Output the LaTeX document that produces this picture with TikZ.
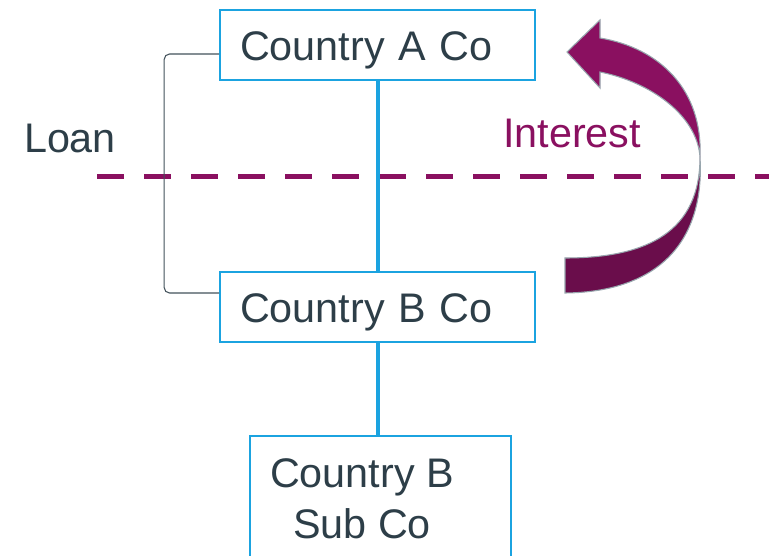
\documentclass[tikz,border=0pt]{standalone}
\usepackage{fontspec}
\setmainfont{Liberation Sans}
\definecolor{boxblue}{HTML}{1BA3E0}
\definecolor{inktext}{HTML}{2D3E48}
\definecolor{plum}{HTML}{8A1060}
\definecolor{plumdark}{HTML}{6A0D4B}
\definecolor{rimgray}{HTML}{98A6AE}
\tikzset{
  box/.style={draw=boxblue, line width=1.2pt, text=inktext, minimum width=236.25pt, minimum height=52.5pt, inner xsep=15pt, text width=206.25pt, text height=30pt, text depth=6.5pt, align=left},
  link/.style={draw=boxblue, line width=3pt},
  bracket/.style={draw=inktext!90, line width=0.8pt, rounded corners=4pt},
  divider/.style={draw=plum, line width=3.75pt, dash pattern=on 20.25pt off 15pt}
}
\begin{document}
\begin{tikzpicture}[x=0.75pt, y=-0.75pt, font=\fontsize{31}{38}\selectfont]
    \clip (0,0) rectangle (769,556);
    % Nodes
    \node[box] (ca) at (377.5,45) {Country A Co};
    \node[box] (cb) at (377.5,307) {Country B Co};
    \node[box, text width=165.75pt, minimum width=195.75pt, minimum height=105pt] (sub) at (380.5,506) {};
    \node[text=inktext, align=center] (subtxt) at (362,499) {Country B\\Sub Co};
    \node[text=inktext] (loan) at (70,138) {Loan};
    \node[text=plum] (interest) at (572,133) {Interest};
    \coordinate (dl) at (97,177);
    \coordinate (dr) at (769,177);

    % Edges
    \draw[divider] (dl) -- (dr);
    \draw[bracket] ([yshift=-6.75pt]ca.west) -| ([xshift=-41.25pt, yshift=10.5pt]cb.west) -- ([yshift=10.5pt]cb.west);
    \draw[link] (ca.south) -- (cb.north);
    \draw[link] (cb.south) -- (cb.south |- sub.north);

    % Interest arrow
    \filldraw[fill=plumdark, draw=rimgray, line width=0.8pt]
      (700,157) .. controls (700,230) and (650,258) .. (565,258)
      -- (565,293) .. controls (660,292) and (705,240) .. (700,157) -- cycle;
    \filldraw[fill=plum, draw=rimgray, line width=0.8pt]
      (700,157) .. controls (703,90) and (660,48) .. (600,38)
      -- (600,20) -- (567,52) -- (600,88) -- (600,72)
      .. controls (650,82) and (697,115) .. (700,157) -- cycle;
\end{tikzpicture}
\end{document}
